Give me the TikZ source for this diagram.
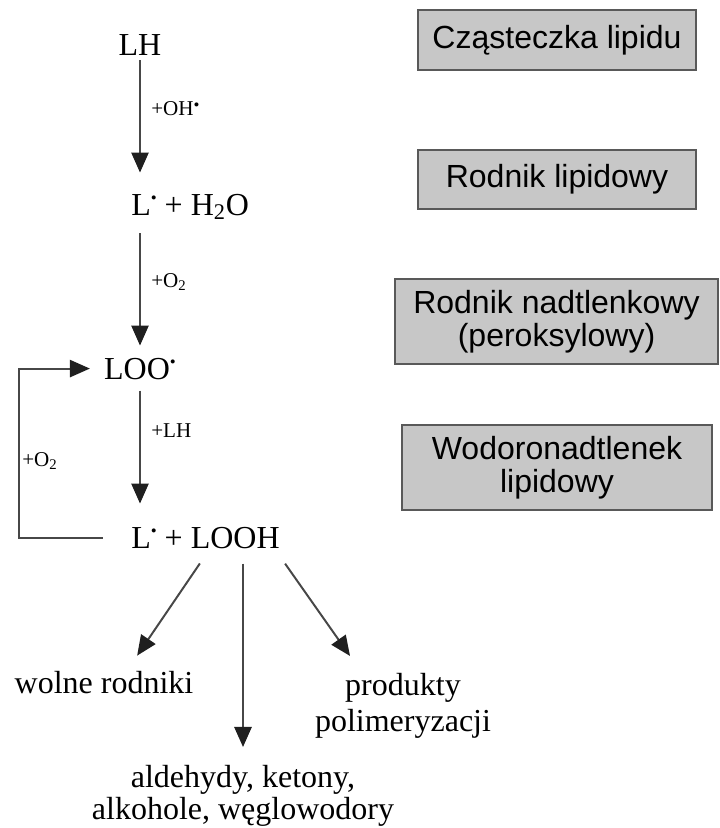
\documentclass[tikz,border=0pt]{standalone}
\usepackage{fontspec}
\setmainfont{Liberation Serif}
\setsansfont{Liberation Sans}
\usepackage{tikz}
\usetikzlibrary{arrows.meta}

\newcommand{\rad}{\raisebox{0.36em}{\large\textbullet}}

\begin{document}
\begin{tikzpicture}[x=0.025cm,y=-0.025cm,
                        chem/.style={inner sep=0pt,font=\fontsize{22.76pt}{27pt}\selectfont},
                        etykieta/.style={inner sep=0pt,anchor=base west,font=\fontsize{15pt}{18pt}\selectfont},
                        ramka/.style={draw=black!65,line width=1pt,fill=black!22,align=center,
                                      font=\sffamily\fontsize{22.76pt}{23.5pt}\selectfont},
                        strzalka/.style={draw=black!72,line width=1.4pt,
                                         -{Triangle[length=0.5cm,width=0.43cm,color=black!88]}}]
                        \useasboundingbox (0,0) rectangle (719,828);

                        \node[chem,anchor=base] (lh) at (140,56) {LH};
                        \node[chem,anchor=base west] (lr1) at (131,215) {L\rad{} + H\textsubscript{2}O};
                        \node[chem,anchor=base] (loo) at (140,379) {LOO\rad};
                        \node[chem,anchor=base west] (lr2) at (131,548) {L\rad{} + LOOH};

                        \node[chem,anchor=base] (wr) at (104,693) {wolne rodniki};
                        \node[chem,anchor=north,align=center,font=\fontsize{22.76pt}{25.6pt}\selectfont] (prod) at (403,673) {produkty\\polimeryzacji};
                        \node[chem,anchor=north,align=center,font=\fontsize{22.76pt}{22.8pt}\selectfont] (ald) at (243,765) {aldehydy, ketony,\\alkohole, węglowodory};

                        \node[etykieta] (e1) at (151,115) {+OH{\small\rad}};
                        \node[etykieta] (e2) at (151,287) {+O\textsubscript{2}};
                        \node[etykieta] (e3) at (151,437) {+LH};
                        \node[etykieta] (e4) at (22,466) {+O\textsubscript{2}};

                        \node[ramka,minimum width=6.95cm,minimum height=1.5cm] (b1) at (557,40) {Cząsteczka lipidu};
                        \node[ramka,minimum width=6.95cm,minimum height=1.475cm] (b2) at (557,179.5) {Rodnik lipidowy};
                        \node[ramka,minimum width=8.075cm,minimum height=2.125cm] (b3) at (556.5,321.5) {Rodnik nadtlenkowy\\(peroksylowy)};
                        \node[ramka,minimum width=7.75cm,minimum height=2.125cm] (b4) at (557,467.5) {Wodoronadtlenek\\lipidowy};

                        \draw[strzalka,shorten <=0.1cm,shorten >=0.525cm] (lh.south) -- (lh.south |- lr1.north);
                        \draw[strzalka,shorten <=0.325cm,shorten >=0.3cm] (lh.south |- lr1.south) -- (loo.north);
                        \draw[strzalka,shorten <=0.275cm,shorten >=0.575cm] (loo.south) -- (loo.south |- lr2.north);

                        \coordinate (petla) at (19,460);
                        \draw[strzalka,shorten <=0.7cm,shorten >=0.35cm] (lr2.west) -| (petla) |- (loo.west);

                        \draw[strzalka,shorten <=0.45cm,shorten >=0.45cm] (lr2.south -| 210,0) -- (wr.north -| 127,0);
                        \draw[strzalka,shorten <=0.375cm,shorten >=0.45cm] (lr2.south -| ald.north) -- (ald.north);
                        \draw[strzalka,shorten <=0.46cm,shorten >=0.52cm] (lr2.south -| 274.5,0) -- (prod.north -| 362,0);
                    \end{tikzpicture}
\end{document}
